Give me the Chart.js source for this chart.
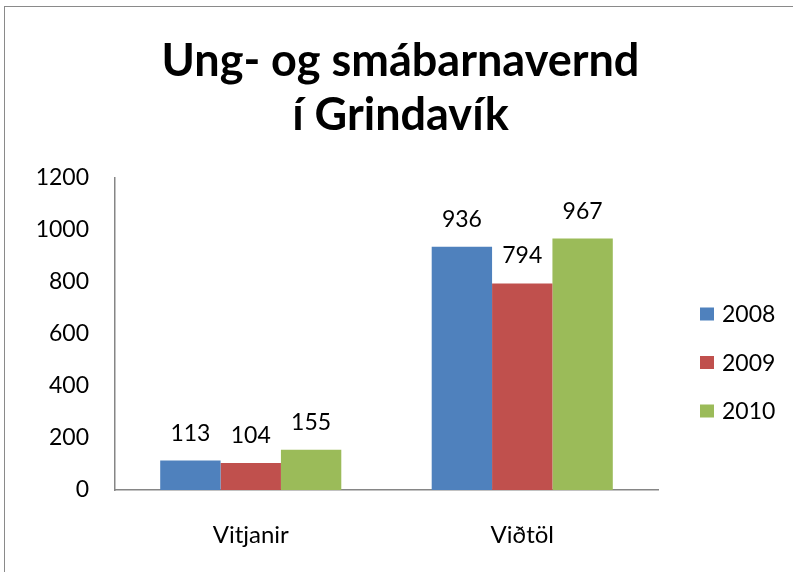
<!DOCTYPE html>
<html>
<head>
<meta charset="utf-8">
<script src="https://cdn.jsdelivr.net/npm/chart.js@4"></script>
<style>
  html, body { margin: 0; padding: 0; background: #fff; overflow: hidden; }
  #wrap { position: relative; width: 793px; height: 572px; }
  #frame { position: absolute; left: 4px; top: 6px; width: 900px; height: 700px; border: 1.5px solid #8a8a8a; box-sizing: border-box; }
  canvas { position: absolute; left: 0; top: 0; }
</style>
</head>
<body>
<div id="wrap">
  <div id="frame"></div>
  <canvas id="myChart" width="793" height="572"></canvas>
</div>
<script>
// categories along the x-axis
var categories = ['Vitjanir', 'Viðtöl'];

// one series per year
var years = ['2008', '2009', '2010'];
var values2008 = [113, 936];
var values2009 = [104, 794];
var values2010 = [155, 967];

var colors = ['#4F81BD', '#C0504D', '#9BBB59'];
var fontFamily = 'Lato, "Open Sans", sans-serif';

// draws the value above each bar
var barLabels = {
  id: 'barLabels',
  afterDatasetsDraw: function (chart) {
    var ctx = chart.ctx;
    ctx.save();
    ctx.font = '23px ' + fontFamily;
    ctx.fillStyle = '#000';
    ctx.textAlign = 'center';
    ctx.textBaseline = 'bottom';
    chart.data.datasets.forEach(function (ds, i) {
      chart.getDatasetMeta(i).data.forEach(function (bar, j) {
        ctx.fillText(ds.data[j], bar.x, bar.y - 16);
      });
    });
    ctx.restore();
  }
};

// legend to the right of the plot, like the Excel one
var sideLegend = {
  id: 'sideLegend',
  afterDraw: function (chart) {
    var ctx = chart.ctx;
    var x = chart.chartArea.right + 42;
    ctx.save();
    ctx.font = '23px ' + fontFamily;
    ctx.textBaseline = 'middle';
    ctx.textAlign = 'left';
    chart.data.datasets.forEach(function (ds, i) {
      var y = 314 + i * 48.5;
      ctx.fillStyle = ds.backgroundColor;
      ctx.fillRect(x, y - 6.5, 14, 13);
      ctx.fillStyle = '#000';
      ctx.fillText(ds.label, x + 22, y + 1);
    });
    ctx.restore();
  }
};

var ctx = document.getElementById('myChart');
var myChart = new Chart(ctx, {
  type: 'bar',
  data: {
    labels: categories,
    datasets: [
      { label: years[0], data: values2008, backgroundColor: colors[0] },
      { label: years[1], data: values2009, backgroundColor: colors[1] },
      { label: years[2], data: values2010, backgroundColor: colors[2] }
    ]
  },
  options: {
    responsive: false,
    animation: false,
    datasets: {
      bar: { categoryPercentage: 0.667, barPercentage: 1.0 }
    },
    layout: { padding: { left: 8, right: 0, top: 0, bottom: 0 } },
    plugins: {
      title: {
        display: true,
        text: ['Ung- og smábarnavernd', 'í Grindavík'],
        color: '#000',
        font: { family: fontFamily, size: 45, weight: 'bold', lineHeight: 1.2 },
        padding: { top: 34, bottom: 36 }
      },
      legend: { display: false },
      tooltip: { enabled: false }
    },
    scales: {
      x: {
        afterFit: function (scale) { scale.height = 82; },
        grid: { display: false, drawTicks: false },
        border: { display: true, color: '#868686', width: 1.5 },
        ticks: { color: '#000', padding: 31, font: { family: fontFamily, size: 24 } }
      },
      y: {
        min: 0,
        max: 1200,
        afterFit: function (scale) { scale.width = 107; },
        grid: { display: false, drawTicks: false },
        border: { display: true, color: '#868686', width: 1.5 },
        ticks: {
          stepSize: 200,
          color: '#000',
          padding: 26,
          font: { family: fontFamily, size: 23 },
          callback: function (v) { return String(v); }
        }
      },
      // empty axis that only reserves room for the legend on the right
      side: {
        type: 'linear',
        position: 'right',
        afterFit: function (scale) { scale.width = 135; },
        grid: { display: false, drawTicks: false },
        border: { display: false },
        ticks: { display: false }
      }
    }
  },
  plugins: [barLabels, sideLegend]
});
</script>
</body>
</html>
